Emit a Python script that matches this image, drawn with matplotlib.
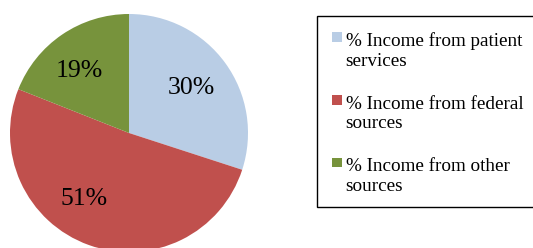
import numpy as np
import matplotlib
matplotlib.use('Agg')
import matplotlib.pyplot as plt
from matplotlib.patches import Rectangle
from matplotlib.lines import Line2D

plt.rcParams['font.family'] = ['Liberation Serif', 'DejaVu Serif']

labels = ['% Income from patient\nservices',
          '% Income from federal\nsources',
          '% Income from other\nsources']
shares = [30, 51, 19]
colors = ['#B9CDE5', '#C0504D', '#77933C']

W, H = 533, 248
fig = plt.figure(figsize=(W / 100, H / 100), dpi=100)

# pie: centre (129,133) px, radius 119 px
cx, cy, r = 129, 133, 119
ax = fig.add_axes([(cx - r) / W, (H - cy - r) / H, 2 * r / W, 2 * r / H])
wedges, texts, autotexts = ax.pie(shares, colors=colors, startangle=90, counterclock=False,
                                  autopct='%1.0f%%', pctdistance=0.66,
                                  wedgeprops=dict(linewidth=0),
                                  textprops=dict(fontsize=18.5, color='black'))
ax.set_xlim(-1, 1)
ax.set_ylim(-1, 1)
ax.set_aspect('equal')
ax.axis('off')

# Excel "best fit" moved the labels a bit off their mid angles
for t, a, d in zip(autotexts, [36, -124, 129], [0.65, 0.67, 0.67]):
    ang = np.deg2rad(a)
    t.set_position((d * np.cos(ang), d * np.sin(ang)))

# legend drawn by hand, box runs off the right edge (no right side)
x0, x1 = 317 / W, 1.2
y0, y1 = (H - 207) / H, (H - 16) / H
fig.add_artist(Line2D([x1, x0, x0, x1], [y1, y1, y0, y0], transform=fig.transFigure,
                      color='black', linewidth=1.0, solid_joinstyle='miter'))
base = [44, 106.5, 169]
for lab, col, b in zip(labels, colors, base):
    fig.patches.append(Rectangle((332 / W, (H - b + 2) / H), 9.5 / W, 9.5 / H,
                                 transform=fig.transFigure, facecolor=col,
                                 edgecolor='none', zorder=2))
    # multi-line text with va='baseline' sits on its last line
    fig.text(345.5 / W, (H - b - 22) / H, lab, fontsize=13.8, va='baseline', ha='left',
             linespacing=1.21, zorder=3)

fig.savefig('out.png', dpi=100)
